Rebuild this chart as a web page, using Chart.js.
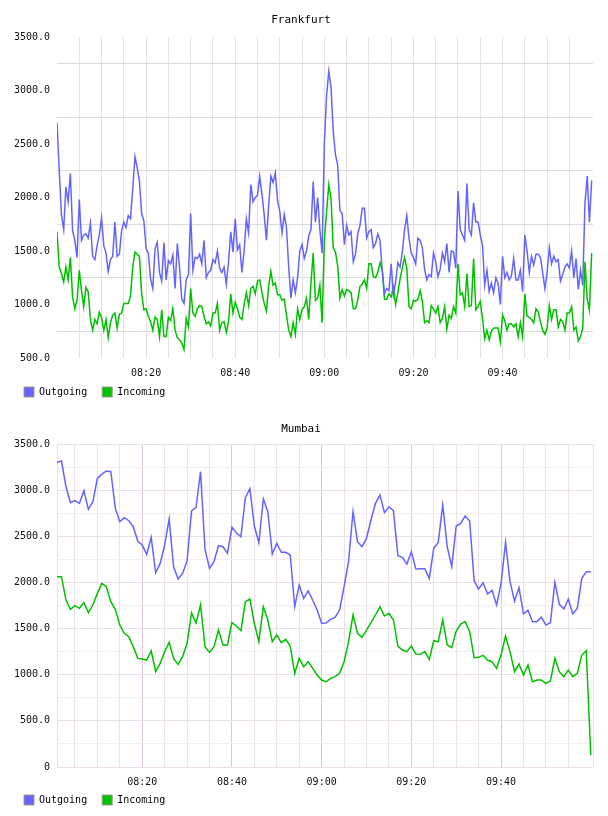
<!DOCTYPE html>
<html>
<head>
<meta charset="utf-8">
<script src="https://cdn.jsdelivr.net/npm/chart.js@4.4.1/dist/chart.umd.min.js"></script>
<style>
  html, body { margin: 0; padding: 0; background: #fff; }
  canvas { display: block; }
</style>
</head>
<body>
<canvas id="frankfurt" width="608" height="408"></canvas>
<canvas id="mumbai" width="608" height="408"></canvas>
<script>
const seriesNames = ['Outgoing', 'Incoming'];
const seriesColors = ['#6464ff', '#00c000'];
const timeTickMinutes = [20, 40, 60, 80, 100];
const timeTickLabels = ['08:20', '08:40', '09:00', '09:20', '09:40'];

// Frankfurt: one sample every 30 s, minutes counted from 08:00
const frankfurtStartMin = 0;
const frankfurtStepMin = 0.5;
const frankfurtOutgoing = [
  2700, 2250, 1836, 1700, 2100, 1960, 2225, 1690, 1600, 1440,
  1980, 1600, 1650, 1660, 1620, 1760, 1450, 1420, 1550, 1650,
  1810, 1550, 1480, 1310, 1420, 1450, 1770, 1450, 1470, 1690,
  1770, 1720, 1830, 1800, 2080, 2380, 2280, 2150, 1850, 1780,
  1520, 1480, 1240, 1150, 1520, 1580, 1300, 1220, 1580, 1230,
  1410, 1380, 1460, 1150, 1570, 1350, 1050, 1010, 1230, 1280,
  1850, 1320, 1440, 1430, 1470, 1380, 1600, 1250, 1300, 1320,
  1420, 1390, 1500, 1340, 1300, 1350, 1190, 1400, 1680, 1490,
  1800, 1510, 1560, 1300, 1500, 1800, 1670, 2120, 1960, 2000,
  2020, 2200, 2030, 1840, 1600, 1920, 2200, 2140, 2230, 1970,
  1870, 1670, 1840, 1720, 1350, 1060, 1230, 1110, 1250, 1500,
  1560, 1430, 1500, 1640, 1700, 2150, 1770, 2000, 1700, 1480,
  2500, 2950, 3180, 3030, 2620, 2400, 2300, 1880, 1850, 1560,
  1740, 1650, 1680, 1400, 1470, 1660, 1740, 1900, 1900, 1620,
  1680, 1700, 1530, 1570, 1660, 1600, 1320, 1100, 1150, 1130,
  1380, 1090, 1210, 1390, 1350, 1490, 1700, 1830, 1620, 1480,
  1440, 1380, 1620, 1600, 1530, 1330, 1230, 1280, 1260, 1480,
  1400, 1260, 1330, 1480, 1400, 1570, 1300, 1500, 1490, 1340,
  2060, 1700, 1650, 1600, 2130, 1700, 1650, 1950, 1770, 1770,
  1650, 1550, 1180, 1320, 1120, 1200, 1110, 1250, 1200, 1000,
  1450, 1250, 1300, 1230, 1270, 1430, 1230, 1230, 1320, 1120,
  1650, 1500, 1300, 1450, 1370, 1470, 1470, 1440, 1300, 1150,
  1300, 1530, 1380, 1450, 1400, 1420, 1220, 1280, 1350, 1380,
  1340, 1500, 1250, 1430, 1140, 1320, 1180, 1950, 2200, 1770,
  2160
];
const frankfurtIncoming = [
  1680, 1350, 1290, 1210, 1350, 1230, 1440, 1070, 960, 1040,
  1320, 1130, 980, 1160, 1120, 860, 760, 860, 820, 930,
  880, 760, 860, 690, 830, 900, 920, 780, 910, 920,
  1010, 1010, 1010, 1080, 1350, 1490, 1470, 1450, 1100, 950,
  960, 890, 840, 760, 880, 860, 700, 950, 700, 700,
  880, 850, 960, 760, 690, 670, 640, 580, 870, 790,
  1150, 920, 890, 960, 990, 980, 890, 820, 840, 800,
  920, 920, 1010, 760, 830, 840, 740, 840, 1100, 920,
  1020, 960, 880, 860, 1000, 1110, 990, 1150, 1170, 1100,
  1220, 1230, 1110, 1010, 940, 1170, 1310, 1180, 1200, 1090,
  1090, 1040, 1050, 900, 760, 700, 830, 720, 960, 860,
  950, 980, 1060, 860, 1200, 1480, 1040, 1060, 1180, 830,
  1600, 1860, 2120, 1990, 1530, 1490, 1360, 1060, 1140, 1080,
  1140, 1130, 1110, 960, 960, 1040, 1170, 1190, 1230, 1150,
  1380, 1380, 1260, 1250, 1300, 1390, 1320, 1050, 1050, 1100,
  1070, 1160, 1000, 1110, 1240, 1340, 1440, 1340, 980, 960,
  1040, 1030, 1050, 1130, 1030, 830, 850, 830, 990, 960,
  920, 980, 830, 870, 980, 770, 900, 870, 980, 920,
  1380, 1090, 1110, 980, 1290, 980, 990, 1430, 950, 980,
  1030, 870, 680, 760, 670, 750, 780, 780, 780, 650,
  900, 850, 760, 820, 820, 790, 820, 700, 830, 700,
  1100, 890, 880, 860, 830, 960, 930, 840, 760, 720,
  780, 990, 860, 950, 950, 790, 860, 840, 760, 920,
  920, 980, 760, 790, 660, 700, 780, 1400, 1050, 950,
  1480
];

// Mumbai: one sample a minute, from 08:01
const mumbaiStartMin = 1;
const mumbaiStepMin = 1;
const mumbaiOutgoing = [
  3301, 3315, 3037, 2864, 2886, 2857, 2994, 2792, 2875, 3128,
  3174, 3207, 3200, 2802, 2658, 2701, 2669, 2604, 2448, 2405,
  2304, 2488, 2105, 2206, 2405, 2687, 2170, 2037, 2098, 2235,
  2774, 2813, 3200, 2358, 2152, 2225, 2398, 2387, 2315, 2597,
  2539, 2495, 2918, 3016, 2611, 2430, 2904, 2766, 2308, 2423,
  2326, 2326, 2297, 1737, 1972, 1827, 1910, 1809, 1701, 1557,
  1560, 1600, 1622, 1701, 1954, 2225, 2766, 2441, 2387, 2477,
  2676, 2857, 2947, 2756, 2820, 2777, 2290, 2272, 2199, 2333,
  2145, 2149, 2149, 2044, 2369, 2434, 2839, 2387, 2170, 2611,
  2640, 2719, 2665, 2019, 1928, 1997, 1874, 1914, 1755, 1983,
  2434, 2008, 1798, 1943, 1660, 1700, 1575, 1575, 1622, 1538,
  1564, 2000, 1762, 1712, 1820, 1658, 1719, 2044, 2116, 2116
];
const mumbaiIncoming = [
  2062, 2062, 1809, 1708, 1748, 1719, 1780, 1672, 1755, 1881,
  1990, 1954, 1791, 1708, 1538, 1448, 1412, 1304, 1177, 1170,
  1159, 1260, 1033, 1123, 1250, 1351, 1177, 1112, 1195, 1340,
  1670, 1560, 1755, 1304, 1242, 1304, 1484, 1322, 1322, 1564,
  1528, 1477, 1791, 1820, 1557, 1358, 1737, 1593, 1358, 1430,
  1347, 1383, 1311, 1015, 1177, 1087, 1141, 1069, 997, 942,
  924, 960, 979, 1015, 1141, 1358, 1647, 1448, 1405, 1484,
  1564, 1647, 1737, 1636, 1665, 1593, 1311, 1268, 1250, 1311,
  1224, 1221, 1250, 1166, 1369, 1358, 1593, 1322, 1293, 1473,
  1549, 1575, 1466, 1185, 1188, 1210, 1159, 1141, 1069, 1213,
  1419, 1250, 1033, 1116, 997, 1105, 924, 942, 942, 906,
  932, 1177, 1033, 979, 1051, 979, 1015, 1213, 1260, 130
];

const MONO = "'DejaVu Sans Mono', monospace";

function points(values, start, step) {
  return values.map((v, i) => ({x: start + i * step, y: v}));
}

function timeLabel(v) {
  const i = timeTickMinutes.indexOf(v);
  return i >= 0 ? timeTickLabels[i] : '';
}

function valueLabel(v) {
  if (v % 500 !== 0) return '';
  return v === 0 ? '0' : v.toFixed(1);
}

// the legend sits closer under the time labels than chart.js would put it
const legendNudge = {
  id: 'legendNudge',
  afterLayout(chart, args, opts) {
    chart.legend.top -= opts.up;
    chart.legend.bottom -= opts.up;
  }
};

function makeChart(id, title, outgoing, incoming, start, step, look) {
  return new Chart(document.getElementById(id), {
    type: 'line',
    data: {
      datasets: [
        {label: seriesNames[0], data: points(outgoing, start, step),
         borderColor: seriesColors[0], backgroundColor: seriesColors[0]},
        {label: seriesNames[1], data: points(incoming, start, step),
         borderColor: seriesColors[1], backgroundColor: seriesColors[1]}
      ]
    },
    plugins: [legendNudge],
    options: {
      responsive: false,
      animation: false,
      events: [],
      elements: {
        point: {radius: 0},
        line: {borderWidth: 1.5, tension: 0}
      },
      layout: {padding: {left: 9, right: 15, top: 0, bottom: 0}},
      plugins: {
        legendNudge: {up: look.legendUp},
        title: {
          display: true, text: title, color: '#000',
          font: {family: MONO, size: 11, weight: 'normal'},
          padding: {top: look.titleTop, bottom: look.titleBottom}
        },
        legend: {
          position: 'bottom', align: 'start', maxHeight: look.legendHeight,
          labels: {
            boxWidth: 10, boxHeight: 10, padding: 15, color: '#000',
            font: {family: MONO, size: 10},
            generateLabels: chart => chart.data.datasets.map((d, i) => ({
              text: d.label, fillStyle: d.borderColor, strokeStyle: '#999',
              lineWidth: 1, hidden: false, datasetIndex: i
            }))
          }
        },
        tooltip: {enabled: false}
      },
      scales: {
        x: {
          type: 'linear', min: look.xMin, max: look.xMax,
          afterFit: s => { s.height = 21; },
          afterBuildTicks: s => {
            const ticks = look.edges ? [{value: look.xMin}] : [];
            for (let m = 5; m < look.xMax - 1; m += 5) {
              if (m > look.xMin) ticks.push({value: m});
            }
            if (look.edges) ticks.push({value: look.xMax});
            s.ticks = ticks;
          },
          ticks: {
            autoSkip: false, maxRotation: 0, padding: 9, color: '#111',
            font: {family: MONO, size: 10}, callback: timeLabel
          },
          grid: {drawTicks: false, color: c => look.xGrid(c.tick.value)},
          border: {display: look.edges, color: look.edgeColor}
        },
        y: {
          min: look.yMin, max: 3500,
          afterFit: s => { s.width = 48; },
          ticks: {
            stepSize: 250, autoSkip: false, padding: 7, color: '#111',
            font: {family: MONO, size: 10}, callback: valueLabel
          },
          grid: {drawTicks: false, color: c => look.yGrid(c.tick.value)},
          border: {display: look.edges, color: look.edgeColor}
        }
      }
    }
  });
}

makeChart('frankfurt', 'Frankfurt', frankfurtOutgoing, frankfurtIncoming,
  frankfurtStartMin, frankfurtStepMin, {
    titleTop: 13.4, titleBottom: 10.4, legendHeight: 29, legendUp: 7,
    xMin: 0, xMax: 120.3, yMin: 500, edges: false, edgeColor: '#fff',
    xGrid: v => '#e2e2e2',
    yGrid: v => (v % 500 === 0 ? 'rgba(0,0,0,0)' : '#dcdcdc')
  });

makeChart('mumbai', 'Mumbai', mumbaiOutgoing, mumbaiIncoming,
  mumbaiStartMin, mumbaiStepMin, {
    titleTop: 14.4, titleBottom: 8.4, legendHeight: 28, legendUp: 8,
    xMin: 1, xMax: 120.5, yMin: 0, edges: true, edgeColor: '#ecdcec',
    xGrid: v => (v % 20 === 0 ? '#dcc6dc' : (v % 5 === 0 ? '#ebe2eb' : '#ecdcec')),
    yGrid: v => (v % 500 === 0 ? '#eddeed' : '#f3edf3')
  });
</script>
</body>
</html>
